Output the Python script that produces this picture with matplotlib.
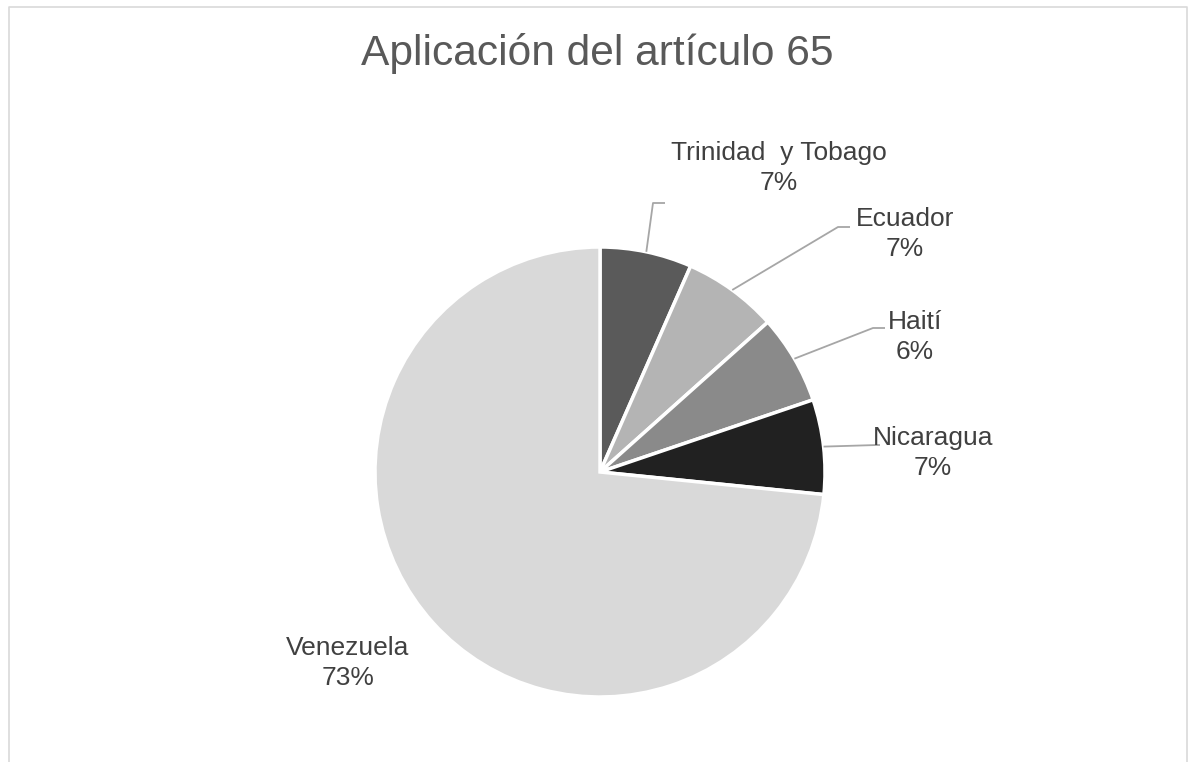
import matplotlib
matplotlib.use('Agg')
import matplotlib.pyplot as plt
import numpy as np

# datos del grafico
paises = ['Trinidad  y Tobago', 'Ecuador', 'Haití', 'Nicaragua', 'Venezuela']
porcentajes = [6.6, 6.8, 6.4, 6.8, 73.4]
colores = ['#5a5a5a', '#b4b4b4', '#8a8a8a', '#212121', '#d9d9d9']
titulo = 'Aplicación del artículo 65'

W, H = 1192, 762
plt.rcParams['font.family'] = ['Liberation Sans', 'DejaVu Sans']

fig = plt.figure(figsize=(W / 100, H / 100), dpi=100)
ax = fig.add_axes([0, 0, 1, 1])


def py(y):
    # pixel desde arriba -> coordenada del eje
    return H - y


# marco del grafico
ax.plot([9, 9, 1187, 1187], [0, py(7), py(7), 0], color='#d9d9d9', lw=1.2)

cx, cy, r = 600, py(472), 225
wedges, _ = ax.pie(porcentajes, colors=colores, startangle=90, counterclock=False,
                   center=(cx, cy), radius=r, frame=True,
                   wedgeprops=dict(edgecolor='white', linewidth=2.5))
ax.set_xlim(0, W)
ax.set_ylim(0, H)
ax.set_aspect('equal')
ax.axis('off')

# posiciones de etiquetas (centro del bloque) y codo de la linea guia
etiquetas_pos = [(779, 168), (905, 234), (915, 337), (933, 453), (348, 663)]
codos = [((653, 203), (665, 203)), ((838, 227), (850, 227)),
         ((873, 328), (885, 328)), ((877, 445), (880, 445)), None]

for w, nombre, pct, pos, codo in zip(wedges, paises, porcentajes, etiquetas_pos, codos):
    ang = np.deg2rad((w.theta1 + w.theta2) / 2)
    if codo is not None:
        x0 = cx + r * np.cos(ang)
        y0 = cy + r * np.sin(ang)
        ax.plot([x0, codo[0][0], codo[1][0]], [y0, py(codo[0][1]), py(codo[1][1])],
                color='#a6a6a6', lw=1.3, solid_capstyle='butt')
    ax.text(pos[0], py(pos[1]), '%s\n%d%%' % (nombre, round(pct)), ha='center', va='center',
            fontsize=19, color='#404040', linespacing=1.3)

ax.text(597, py(53), titulo, ha='center', va='center', fontsize=30.6, color='#595959')

fig.savefig('out.png', dpi=100)
